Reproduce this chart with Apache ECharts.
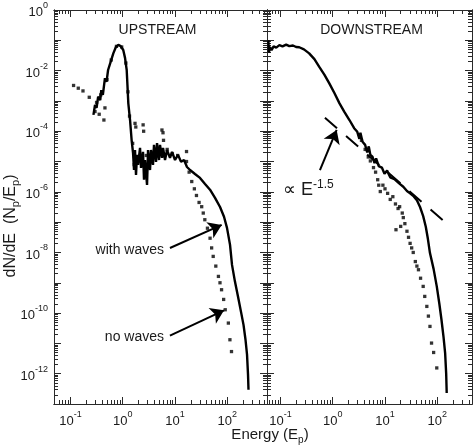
<!DOCTYPE html>
<html><head><meta charset="utf-8">
<script src="https://cdn.jsdelivr.net/npm/echarts@6/dist/echarts.min.js"></script>
<style>html,body{margin:0;padding:0;background:#fff}#c{width:474px;height:446px}</style>
</head><body><div id="c"></div>
<script>
const upWavesLogE = [-0.56,-0.53,-0.50,-0.47,-0.43,-0.41,-0.38,-0.34,-0.31,-0.28,-0.24,-0.18,-0.13,-0.084,-0.04,0.01,0.044,0.076,0.09,0.107,0.14,0.17,0.197,
 0.216,0.235,0.254,0.273,0.293,0.331,0.350,0.388,0.407,0.426,0.465,0.484,0.522,0.541,0.579,0.598,0.637,0.656,0.694,0.713,0.751,0.771,0.809,0.847,0.904,0.943,1.000,1.057,1.115,1.172,1.229,1.287,1.382,1.478,1.574,1.669,1.765,1.861,1.937,1.994,2.052,2.090,2.147,2.205,2.262,2.310,2.348,2.377,2.396,2.405];
const upWavesLogN = [-3.46,-3.13,-3.23,-2.86,-2.97,-2.64,-2.80,-2.25,-2.37,-1.98,-1.76,-1.43,-1.22,-1.15,-1.19,-1.32,-1.58,-1.98,-2.47,-3.08,-3.63,-4.29,-4.71,
 -5.28,-4.62,-5.44,-4.78,-5.11,-4.55,-5.21,-4.68,-5.60,-4.95,-5.77,-4.62,-5.28,-4.62,-5.11,-4.45,-5.01,-4.39,-4.95,-4.45,-4.88,-4.55,-4.95,-4.62,-4.88,-4.68,-4.95,-4.78,-5.01,-4.95,-5.18,-5.28,-5.41,-5.54,-5.74,-5.93,-6.20,-6.50,-6.82,-7.19,-7.75,-8.41,-8.97,-9.46,-9.96,-10.39,-10.88,-11.37,-12.03,-12.53];
const upNoWavesLogE = [-0.94,-0.85,-0.76,-0.64,-0.53,-0.50,-0.45,-0.42,-0.36,-0.34,-0.30,-0.22,-0.12,-0.02,0.06,0.10,0.13,0.19,0.22,0.235,0.25,0.27,0.39,0.40,0.45,0.55,0.75,0.77,0.78,0.85,0.95,1.05,1.22,1.22,1.27,1.32,1.37,1.41,1.46,1.51,1.54,1.57,1.62,1.67,1.70,1.73,1.78,1.83,1.86,1.89,1.93,1.96,2.02,2.05,2.08];
const upNoWavesLogN = [-2.49,-2.58,-2.67,-2.88,-3.35,-3.05,-3.44,-2.80,-3.63,-3.23,-2.30,-1.65,-1.20,-1.22,-1.75,-2.70,-3.50,-4.40,-5.10,-3.74,-3.86,-5.00,-3.79,-4.00,-4.80,-5.00,-3.96,-4.05,-4.30,-4.60,-4.75,-4.80,-4.67,-5.00,-5.35,-5.66,-5.90,-6.12,-6.35,-6.49,-6.70,-6.92,-7.20,-7.53,-7.85,-8.13,-8.45,-8.79,-9.00,-9.23,-9.55,-9.89,-10.33,-10.88,-11.27];
const downWavesLogE = [-1.23,-1.22,-1.20,-1.17,-1.13,-1.08,-1.02,-0.96,-0.89,-0.83,-0.76,-0.70,-0.64,-0.55,-0.45,-0.35,-0.26,-0.16,-0.065,0.03,0.13,0.22,0.32,0.41,0.47,0.51,0.53,0.57,0.62,0.66,0.69,0.72,0.76,0.80,0.83,0.88,0.94,0.99,1.04,1.10,1.18,1.27,1.35,1.42,1.48,1.55,1.61,1.67,1.73,1.78,1.82,1.86,1.93,1.99,2.04,2.08,2.12,2.15,2.17,2.18];
const downWavesLogN = [-1.00,-1.40,-1.22,-1.33,-1.20,-1.24,-1.16,-1.20,-1.14,-1.19,-1.17,-1.22,-1.23,-1.30,-1.43,-1.62,-1.87,-2.13,-2.42,-2.73,-3.08,-3.35,-3.63,-3.90,-4.02,-4.25,-4.05,-4.35,-4.45,-4.70,-4.50,-4.78,-4.84,-5.05,-4.90,-5.15,-5.20,-5.40,-5.30,-5.52,-5.58,-5.72,-5.83,-5.97,-6.05,-6.15,-6.28,-6.50,-6.80,-7.15,-7.55,-8.02,-8.55,-9.12,-9.70,-10.22,-10.80,-11.32,-12.00,-12.64];
const downNoWavesLogE = [0.55,0.62,0.68,0.72,0.78,0.82,0.86,0.88,0.91,0.96,1.00,1.05,1.10,1.15,1.20,1.21,1.25,1.28,1.30,1.33,1.35,1.38,1.42,1.45,1.48,1.51,1.54,1.58,1.61,1.64,1.68,1.73,1.76,1.80,1.83,1.86,1.89,1.93,1.99];
const downNoWavesLogN = [-4.30,-4.60,-4.85,-4.98,-5.20,-5.35,-5.60,-5.78,-5.99,-5.78,-5.90,-6.05,-6.25,-6.16,-6.40,-7.25,-6.55,-6.49,-7.14,-6.70,-6.85,-7.05,-7.30,-7.50,-7.70,-7.85,-8.00,-8.30,-8.45,-8.57,-8.85,-9.12,-9.45,-9.78,-10.10,-10.44,-10.99,-11.30,-11.81];
const powerLawE = [0.71, 132];
const powerLawN = [2.8e-4, 1.1e-7];
const arrowWithWaves = [8.0, 1.4e-8, 78, 8.1e-8];
const arrowNoWaves = [8.0, 1.8e-11, 86.5, 1.23e-10];
const arrowPowerLaw = [0.57, 5.2e-6, 1.19, 1.1e-4];
const xLabelTicks = [0.1, 1, 10, 100];
const yLabelTicks = [1, 1e-2, 1e-4, 1e-6, 1e-8, 1e-10, 1e-12];
const yMajorTicks = [1, 1e-1, 1e-2, 1e-3, 1e-4, 1e-5, 1e-6, 1e-7, 1e-8, 1e-9, 1e-10, 1e-11, 1e-12, 1e-13];
const xMajorTicks = [0.1, 1, 10, 100];
const mantissas = [2, 3, 4, 5, 6, 7, 8, 9];
const xMinorTicks = [];
[-2, -1, 0, 1, 2].forEach(p => mantissas.forEach(m => xMinorTicks.push(+(m * Math.pow(10, p)).toPrecision(3))));
const yMinorTicks = [];
for (let p = -13; p < 0; p++) mantissas.forEach(m => yMinorTicks.push(+(m * Math.pow(10, p)).toPrecision(3)));

const xRangeUp = [0.0485, 574];
const xRangeDown = [0.0554, 461];
const yRange = [1e-13, 1];

const toPairs = (le, ln) => le.map((e, i) => [Math.pow(10, e), Math.pow(10, ln[i])]);
const FONT = '"Liberation Sans", Arial, Helvetica, sans-serif';
const AXC = '#2a2a2a';
const TXT = '#1a1a1a';

function supLabel(v) {
  const p = Math.round(Math.log10(v));
  return '{b|10}{s|' + p + '}';
}
const labelRich = {
  b: {fontSize: 13, fontFamily: FONT, color: TXT, lineHeight: 18, verticalAlign: 'bottom'},
  s: {fontSize: 9, fontFamily: FONT, color: TXT, lineHeight: 11, verticalAlign: 'top'}
};

function axisDef(g, pos, range, ticks, len, labelTicks) {
  return {
    type: 'log', logBase: 10, gridIndex: g, position: pos, min: range[0], max: range[1],
    axisLine: {show: true, onZero: false, lineStyle: {color: AXC, width: 1}},
    axisTick: {show: true, inside: true, length: len, customValues: ticks, lineStyle: {color: AXC, width: 1}},
    axisLabel: labelTicks ? {show: true, customValues: labelTicks, formatter: supLabel, rich: labelRich, margin: 6} : {show: false},
    splitLine: {show: false}, minorTick: {show: false}, minorSplitLine: {show: false}
  };
}

const xAxes = [], yAxes = [];
[[0, xRangeUp, true], [1, xRangeDown, false]].forEach(([g, xr, leftLabels]) => {
  xAxes.push(axisDef(g, 'bottom', xr, xMajorTicks, 7, xLabelTicks));
  xAxes.push(axisDef(g, 'top', xr, xMajorTicks, 7, null));
  xAxes.push(axisDef(g, 'bottom', xr, xMinorTicks, 4, null));
  xAxes.push(axisDef(g, 'top', xr, xMinorTicks, 4, null));
  yAxes.push(axisDef(g, 'left', yRange, yMajorTicks, 7, leftLabels ? yLabelTicks : null));
  yAxes.push(axisDef(g, 'right', yRange, yMajorTicks, 7, null));
  yAxes.push(axisDef(g, 'left', yRange, yMinorTicks, 4, null));
  yAxes.push(axisDef(g, 'right', yRange, yMinorTicks, 4, null));
});

function arrowLine(a) { return [{coord: [a[0], a[1]]}, {coord: [a[2], a[3]]}]; }
const arrowMark = (list) => ({
  silent: true, animation: false, symbol: ['none', 'arrow'], symbolSize: 13,
  lineStyle: {color: '#000', width: 2, type: 'solid'}, label: {show: false},
  data: list.map(arrowLine)
});
function txt(x, y, text, size, align, extra) {
  return Object.assign({type: 'text', x: x, y: y, silent: true,
    style: {text: text, font: size + 'px ' + FONT, fill: TXT, align: align, verticalAlign: 'middle', textAlign: align, textVerticalAlign: 'middle'}}, extra || {});
}
function richTxt(x, y, text, rich, align, extra) {
  return Object.assign({type: 'text', x: x, y: y, silent: true,
    style: {text: text, rich: rich, fill: TXT, align: align, verticalAlign: 'middle', textAlign: align, textVerticalAlign: 'middle'}}, extra || {});
}
const subRich = {
  a: {fontSize: 16, fontFamily: FONT, fill: TXT, color: TXT, lineHeight: 19, verticalAlign: 'top'},
  p: {fontSize: 11, fontFamily: FONT, fill: TXT, color: TXT, lineHeight: 13, verticalAlign: 'bottom'}
};
const xNameRich = {
  a: {fontSize: 15, fontFamily: FONT, fill: TXT, color: TXT, lineHeight: 18, verticalAlign: 'top'},
  p: {fontSize: 10, fontFamily: FONT, fill: TXT, color: TXT, lineHeight: 12, verticalAlign: 'bottom'}
};
const supRich = {
  a: {fontSize: 18, fontFamily: FONT, fill: TXT, color: TXT, lineHeight: 20, verticalAlign: 'bottom'},
  s: {fontSize: 12, fontFamily: FONT, fill: TXT, color: TXT, lineHeight: 12, verticalAlign: 'top'}
};

const chart = echarts.init(document.getElementById('c'), null, {renderer: 'canvas'});
chart.setOption({
  animation: false,
  backgroundColor: '#fff',
  grid: [
    {left: 54, top: 10, width: 213, height: 394},
    {left: 267, top: 10, width: 205, height: 394}
  ],
  xAxis: xAxes,
  yAxis: yAxes,
  series: [
    {type: 'line', xAxisIndex: 0, yAxisIndex: 0, data: toPairs(upWavesLogE, upWavesLogN), symbol: 'none',
     lineStyle: {color: '#000', width: 2.4}, z: 3, markLine: arrowMark([arrowWithWaves, arrowNoWaves])},
    {type: 'scatter', xAxisIndex: 0, yAxisIndex: 0, data: toPairs(upNoWavesLogE, upNoWavesLogN), symbol: 'rect', symbolSize: 3.3,
     itemStyle: {color: '#000'}, z: 4},
    {type: 'line', xAxisIndex: 4, yAxisIndex: 4, data: toPairs(downWavesLogE, downWavesLogN), symbol: 'none',
     lineStyle: {color: '#000', width: 2.4}, z: 3, markLine: arrowMark([arrowPowerLaw])},
    {type: 'scatter', xAxisIndex: 4, yAxisIndex: 4, data: toPairs(downNoWavesLogE, downNoWavesLogN), symbol: 'rect', symbolSize: 3.3,
     itemStyle: {color: '#000'}, z: 4},
    {type: 'line', xAxisIndex: 4, yAxisIndex: 4, data: powerLawE.map((e, i) => [e, powerLawN[i]]), symbol: 'none',
     lineStyle: {color: '#000', width: 2, type: [16, 12]}, z: 2}
  ],
  graphic: [
    txt(157.5, 30, 'UPSTREAM', 14, 'center'),
    txt(371.5, 30, 'DOWNSTREAM', 14, 'center'),
    txt(164, 250, 'with waves', 14, 'right'),
    txt(164, 337, 'no waves', 14, 'right'),
    richTxt(283, 189, '{a|\u221D E}{s|-1.5}', supRich, 'left'),
    richTxt(270, 436, '{a|Energy (E}{p|p}{a|)}', xNameRich, 'center'),
    richTxt(12, 226, '{a|dN/dE  (N}{p|p}{a|/E}{p|p}{a|)}', subRich, 'center', {rotation: Math.PI / 2})
  ]
});
</script>
</body></html>
